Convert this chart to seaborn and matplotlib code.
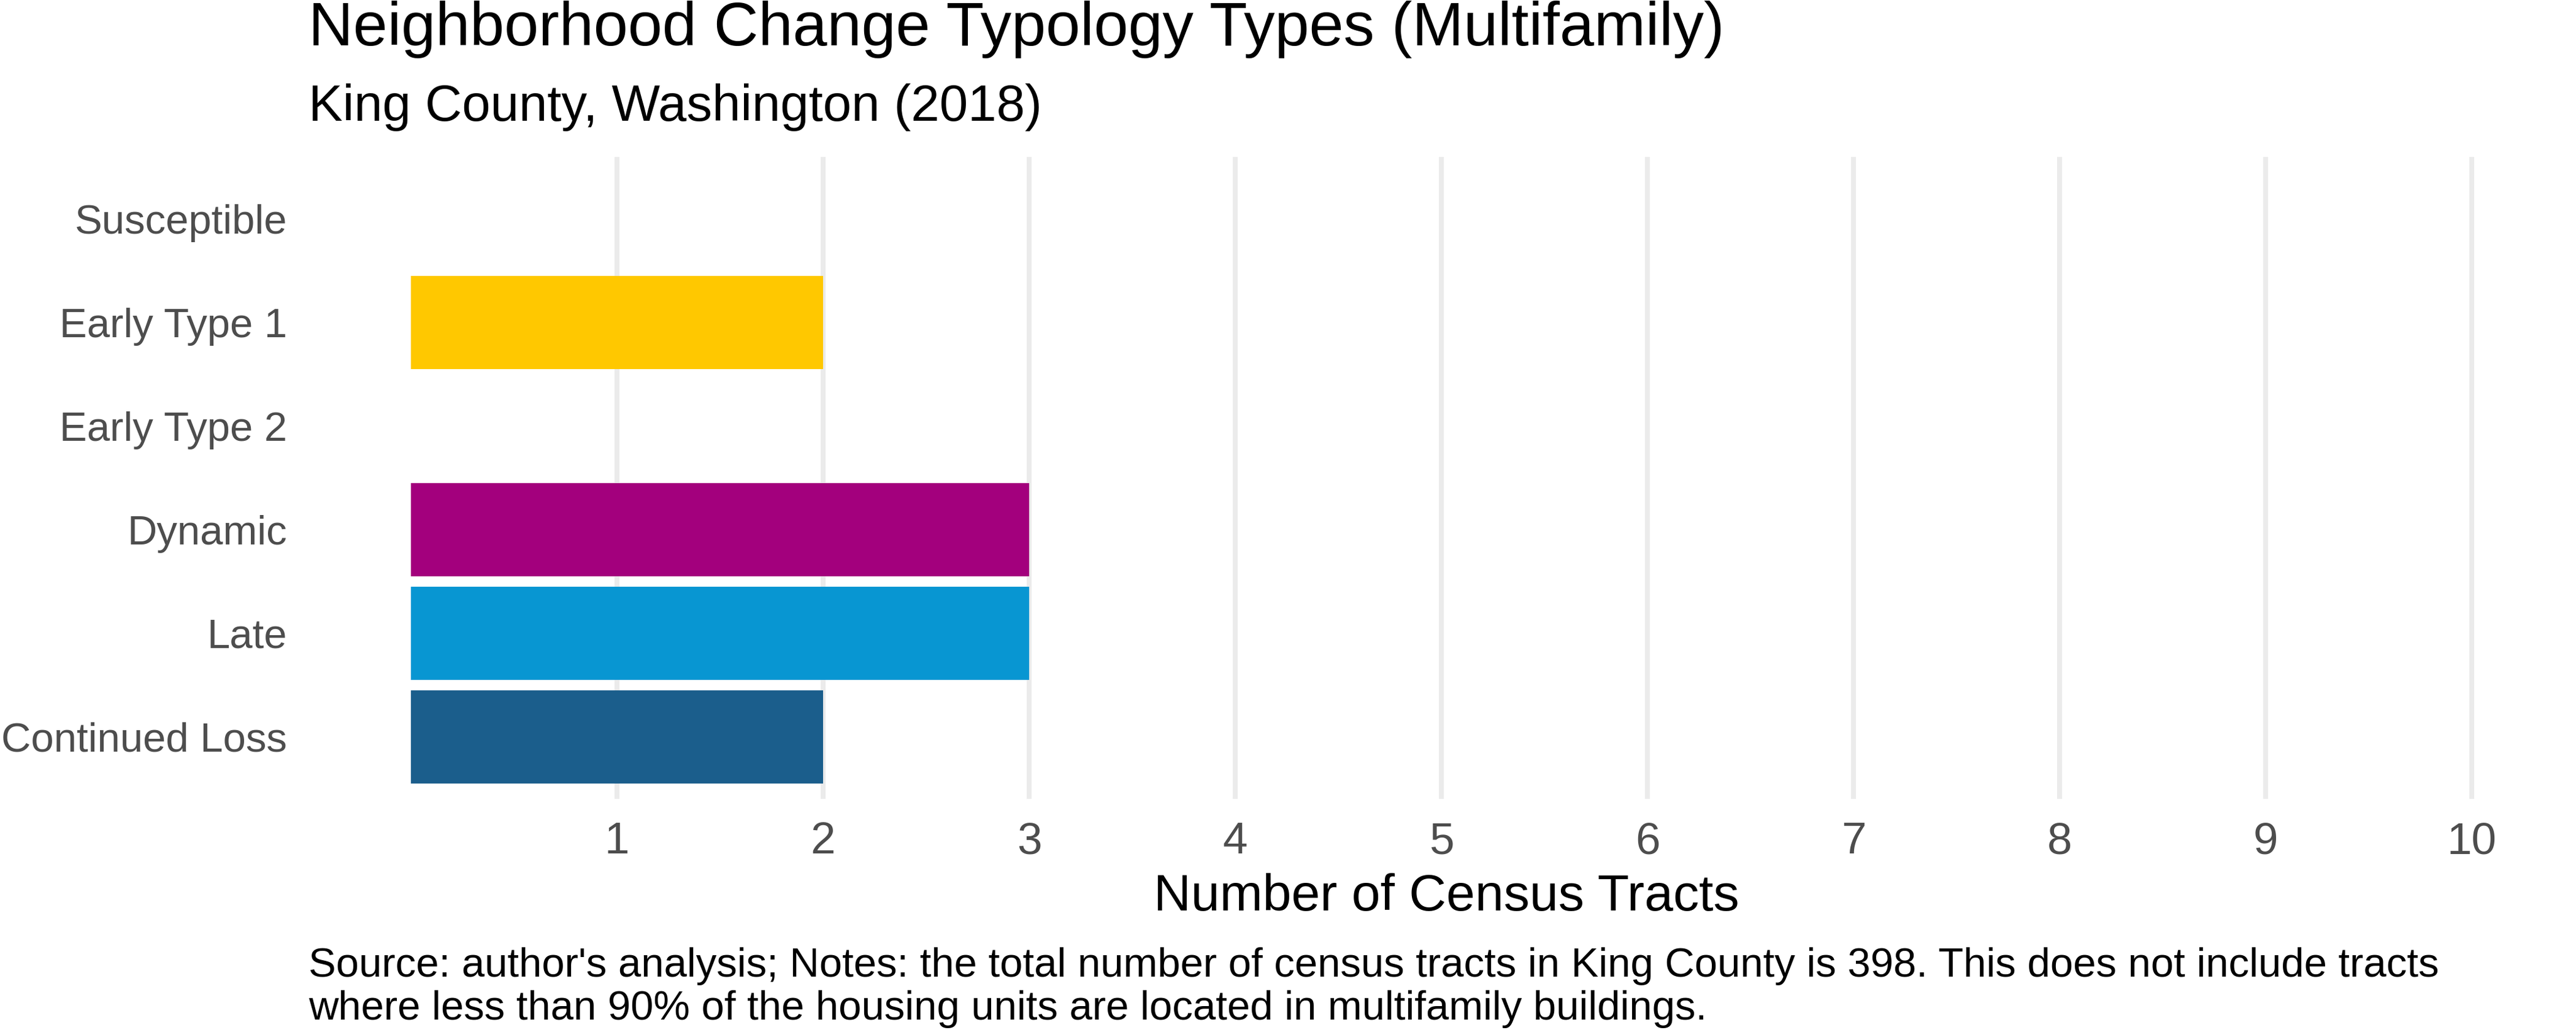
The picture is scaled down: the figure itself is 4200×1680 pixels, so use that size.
import pandas as pd
import seaborn as sns
import matplotlib.pyplot as plt

# datos del grafico
tipos = ["Susceptible", "Early Type 1", "Early Type 2", "Dynamic", "Late", "Continued Loss"]
tractos = [0, 2, 0, 3, 3, 2]
colores = ["#55B748", "#FFC800", "#EC008B", "#A3007D", "#0896D2", "#1B5E8C"]
ticks_x = [1, 2, 3, 4, 5, 6, 7, 8, 9, 10]

titulo = "Neighborhood Change Typology Types (Multifamily)"
subtitulo = "King County, Washington (2018)"
eje_x = "Number of Census Tracts"
nota = ["Source: author's analysis; Notes: the total number of census tracts in King County is 398. This does not include tracts",
        "where less than 90% of the housing units are located in multifamily buildings."]

df = pd.DataFrame({"tipo": tipos, "tractos": tractos})

sns.set_theme(style="white")
plt.rcParams['font.family'] = ['Liberation Sans', 'DejaVu Sans']

fig = plt.figure(figsize=(14, 5.6), dpi=300)
ax = fig.add_axes([670 / 4200, 1 - 1303 / 1680, (4047 - 670) / 4200, (1303 - 256) / 1680])

sns.barplot(data=df, x="tractos", y="tipo", hue="tipo", palette=dict(zip(tipos, colores)),
            order=tipos, orient="h", width=0.9, linewidth=0, saturation=1,
            legend=False, ax=ax, zorder=2)

ax.set_xlim(0, 10.05)
ax.set_ylim(len(tipos) - 0.4, -0.6)
ax.set_xticks(ticks_x)
ax.set_xticklabels([str(t) for t in ticks_x])
ax.xaxis.grid(True, color="#EBEBEB", linewidth=1.9, zorder=0)
ax.yaxis.grid(False)
ax.set_axisbelow(True)
for s in ax.spines.values():
    s.set_visible(False)
ax.tick_params(axis="x", length=0, pad=9, labelsize=17.5, labelcolor="#4D4D4D")
ax.tick_params(axis="y", length=0, pad=48.5, labelsize=16.1, labelcolor="#4D4D4D")

ax.set_ylabel("")
ax.set_xlabel(eje_x, fontsize=20.2, color="black")
ax.xaxis.label.set_va("baseline")
ax.xaxis.set_label_coords(0.5, (1303 - 1485) / 1047)

fig.text(503 / 4200, 1 - 74 / 1680, titulo, fontsize=24.2, va="baseline", ha="left", color="black")
fig.text(503 / 4200, 1 - 197 / 1680, subtitulo, fontsize=20, va="baseline", ha="left", color="black")
fig.text(503 / 4200, 1 - 1593 / 1680, nota[0], fontsize=16.1, va="baseline", ha="left", color="black")
fig.text(503 / 4200, 1 - 1663 / 1680, nota[1], fontsize=16.1, va="baseline", ha="left", color="black")

fig.savefig("out.png", dpi=300)
